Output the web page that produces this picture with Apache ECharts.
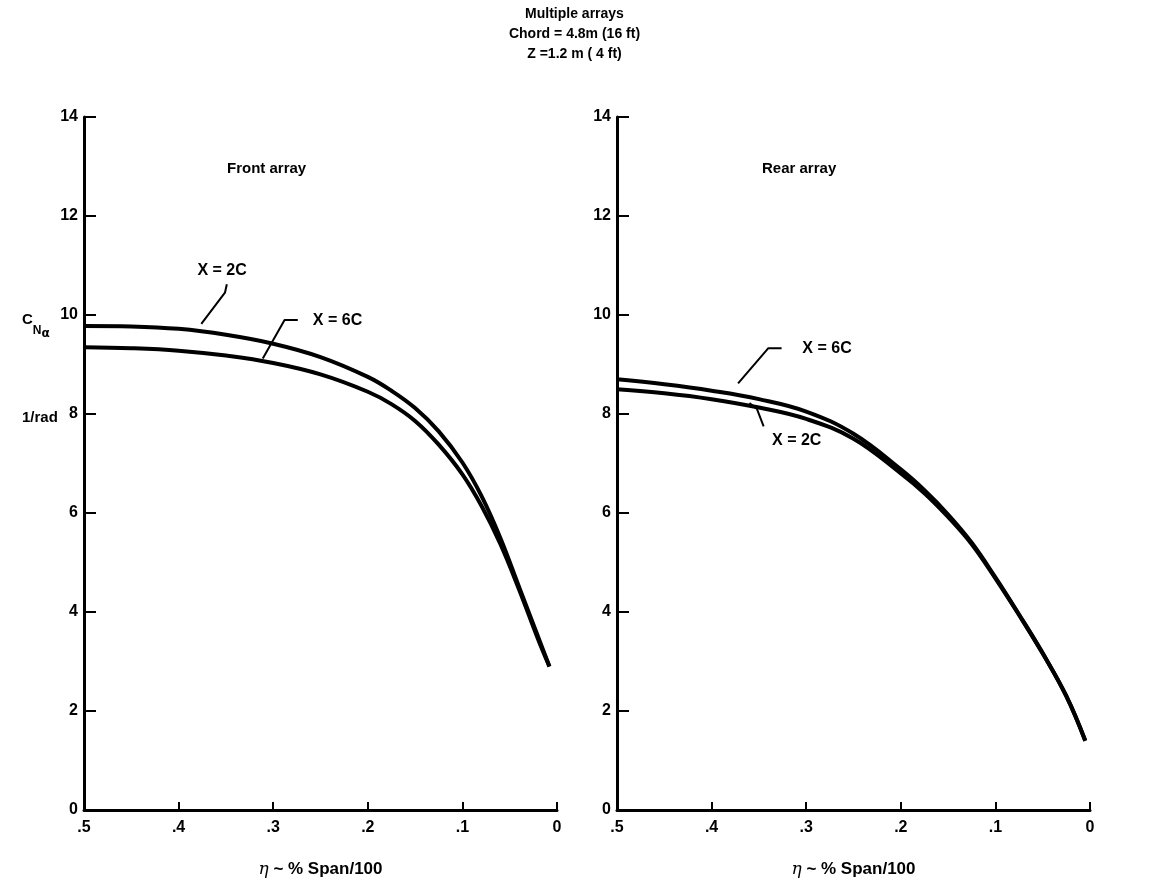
<!DOCTYPE html>
<html><head><meta charset="utf-8">
<script src="https://cdn.jsdelivr.net/npm/echarts@6/dist/echarts.min.js"></script>
<style>html,body{margin:0;padding:0;background:#fff}#c{width:1149px;height:884px}</style>
</head><body><div id="c"></div>
<script>
// ---- data ----
const xTickLabels = ['.5', '.4', '.3', '.2', '.1', '0'];
const yTickLabels = ['0', '2', '4', '6', '8', '10', '12', '14'];

// Front array
const frontEta2C = [0.5, 0.45, 0.4, 0.35, 0.3, 0.25, 0.2, 0.175, 0.15, 0.125, 0.1, 0.08, 0.06, 0.04, 0.02, 0.008];
const frontCN2C  = [9.78, 9.77, 9.72, 9.6, 9.42, 9.15, 8.75, 8.47, 8.12, 7.65, 7.02, 6.35, 5.5, 4.5, 3.5, 2.9];
const frontEta6C = [0.5, 0.45, 0.4, 0.35, 0.3, 0.25, 0.2, 0.175, 0.15, 0.125, 0.1, 0.08, 0.06, 0.04, 0.02, 0.008];
const frontCN6C  = [9.35, 9.33, 9.28, 9.18, 9.03, 8.8, 8.45, 8.2, 7.86, 7.38, 6.78, 6.15, 5.38, 4.45, 3.45, 2.9];

// Rear array
const rearEta6C = [0.5, 0.45, 0.4, 0.35, 0.3, 0.25, 0.2, 0.175, 0.15, 0.125, 0.1, 0.075, 0.05, 0.025, 0.005];
const rearCN6C  = [8.7, 8.6, 8.47, 8.3, 8.05, 7.6, 6.88, 6.46, 5.97, 5.4, 4.7, 3.95, 3.17, 2.3, 1.4];
const rearEta2C = [0.5, 0.45, 0.4, 0.35, 0.3, 0.25, 0.2, 0.175, 0.15, 0.125, 0.1, 0.075, 0.05, 0.025, 0.005];
const rearCN2C  = [8.5, 8.42, 8.3, 8.13, 7.9, 7.5, 6.8, 6.4, 5.92, 5.37, 4.68, 3.94, 3.16, 2.3, 1.4];

// annotation leader lines (data coords)
const lead2CFront = [[0.349, 10.62], [0.351, 10.45], [0.376, 9.82]];
const lead6CFront = [[0.274, 9.9], [0.288, 9.9], [0.311, 9.12]];
const lead6CRear  = [[0.326, 9.33], [0.340, 9.33], [0.372, 8.62]];
const lead2CRear  = [[0.345, 7.75], [0.352, 8.1], [0.360, 8.22]];
const labels = [
  { grid: 0, pos: [0.354, 10.9], text: 'X = 2C' },
  { grid: 0, pos: [0.232, 9.88], text: 'X = 6C' },
  { grid: 1, pos: [0.278, 9.33], text: 'X = 6C' },
  { grid: 1, pos: [0.31, 7.47], text: 'X = 2C' }
];

function pairs(xs, ys) { return xs.map((x, i) => [x, ys[i]]); }

const chart = echarts.init(document.getElementById('c'), null, { renderer: 'canvas' });
const FONT = 'Liberation Sans';
const grids = [
  { left: 84, top: 117, width: 473, height: 693 },
  { left: 617, top: 117, width: 473, height: 693 }
];
function xAxis(i) {
  return {
    gridIndex: i, type: 'value', inverse: true, min: 0, max: 0.5, interval: 0.1,
    axisLine: { onZero: false, lineStyle: { color: '#000', width: 3 } },
    axisTick: { inside: true, length: 8, lineStyle: { color: '#000', width: 2 } },
    splitLine: { show: false },
    axisLabel: {
      color: '#000', fontFamily: FONT, fontWeight: 'bold', fontSize: 16, margin: 10,
      formatter: v => xTickLabels[Math.round((0.5 - v) * 10)]
    },
    name: '{eta|η}{t| ~ % Span/100}', nameLocation: 'middle', nameGap: 51,
    nameTextStyle: {
      rich: {
        eta: { fontFamily: 'DejaVu Serif', fontStyle: 'italic', fontSize: 17, color: '#000' },
        t: { fontFamily: FONT, fontWeight: 'bold', fontSize: 17, color: '#000' }
      }
    }
  };
}
function yAxis(i) {
  return {
    gridIndex: i, type: 'value', min: 0, max: 14, interval: 2, position: 'left',
    axisLine: { show: true, onZero: false, lineStyle: { color: '#000', width: 3 } },
    axisTick: { show: true, inside: true, length: 12, lineStyle: { color: '#000', width: 2 } },
    splitLine: { show: false },
    axisLabel: {
      color: '#000', fontFamily: FONT, fontWeight: 'bold', fontSize: 16, margin: 6,
      formatter: v => yTickLabels[Math.round(v / 2)]
    }
  };
}
function curve(i, data) {
  return {
    type: 'line', xAxisIndex: i, yAxisIndex: i, data: data, smooth: 0.4,
    showSymbol: false, symbol: 'none', lineStyle: { color: '#000', width: 4 }, z: 3
  };
}
function leader(i, data) {
  return {
    type: 'line', xAxisIndex: i, yAxisIndex: i, data: data, smooth: false,
    showSymbol: false, symbol: 'none', lineStyle: { color: '#000', width: 2 }, z: 4
  };
}

chart.setOption({
  animation: false,
  backgroundColor: '#fff',
  title: [
    { text: 'Multiple arrays\nChord = 4.8m (16 ft)\nZ =1.2 m ( 4 ft)', left: 'center', top: -1,
      textStyle: { fontFamily: FONT, fontWeight: 'bold', fontSize: 14, lineHeight: 20, color: '#000' } },
    { text: 'Front array', left: 222, top: 156,
      textStyle: { fontFamily: FONT, fontWeight: 'bold', fontSize: 15, color: '#000' } },
    { text: 'Rear array', left: 757, top: 156,
      textStyle: { fontFamily: FONT, fontWeight: 'bold', fontSize: 15, color: '#000' } }
  ],
  grid: grids,
  xAxis: [xAxis(0), xAxis(1)],
  yAxis: [yAxis(0), yAxis(1)],
  series: [
    curve(0, pairs(frontEta2C, frontCN2C)),
    curve(0, pairs(frontEta6C, frontCN6C)),
    curve(1, pairs(rearEta6C, rearCN6C)),
    curve(1, pairs(rearEta2C, rearCN2C)),
    leader(0, lead2CFront), leader(0, lead6CFront),
    leader(1, lead6CRear), leader(1, lead2CRear)
  ]
});

const graphics = [
  { type: 'text', left: 22, top: 312, style: {
      text: '{c|C}{n|N}{a|α}', rich: {
        c: { fontFamily: FONT, fontWeight: 'bold', fontSize: 15, fill: '#000', verticalAlign: 'top' },
        n: { fontFamily: FONT, fontWeight: 'bold', fontSize: 12, fill: '#000', padding: [10, 0, 0, 0] },
        a: { fontFamily: 'DejaVu Sans', fontWeight: 'bold', fontSize: 12, fill: '#000', padding: [16, 0, 0, 0] }
      } } },
  { type: 'text', left: 22, top: 410, style: { text: '1/rad', fontFamily: FONT, fontWeight: 'bold', fontSize: 15, fill: '#000' } }
];
labels.forEach(l => {
  const p = chart.convertToPixel({ gridIndex: l.grid }, l.pos);
  graphics.push({ type: 'text', x: p[0], y: p[1], z: 10, style: {
    text: l.text, fill: '#000', fontFamily: FONT, fontWeight: 'bold', fontSize: 16,
    align: 'center', verticalAlign: 'middle' } });
});
chart.setOption({ graphic: graphics });
</script></body></html>
